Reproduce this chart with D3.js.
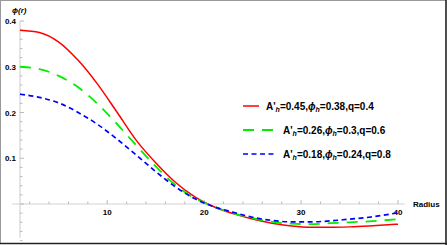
<!DOCTYPE html>
<html>
<head>
<meta charset="utf-8">
<script src="https://cdn.jsdelivr.net/npm/d3@7"></script>
<style>
  body { margin: 0; background: #fff; }
  svg { display: block; }
  text { font-family: "Liberation Sans", Arial, sans-serif; }
</style>
</head>
<body>
<div class="chart"></div>
<script>
// chart data
var radius = [1, 3, 5, 7, 9, 11, 13, 15, 17, 19, 20, 21, 23, 25, 27, 29, 31, 33, 35, 37, 40];
var phiRed   = [0.380, 0.375, 0.354, 0.314, 0.262, 0.201, 0.139, 0.090, 0.048, 0.016, 0.004, -0.006, -0.021, -0.033, -0.042, -0.048, -0.051, -0.051, -0.050, -0.048, -0.044];
var phiGreen = [0.300, 0.295, 0.280, 0.255, 0.219, 0.175, 0.128, 0.082, 0.042, 0.013, 0.003, -0.006, -0.020, -0.031, -0.039, -0.043, -0.044, -0.042, -0.040, -0.038, -0.033];
var phiBlue  = [0.240, 0.233, 0.221, 0.200, 0.174, 0.142, 0.107, 0.071, 0.038, 0.012, 0.002, -0.006, -0.018, -0.029, -0.036, -0.039, -0.039, -0.037, -0.033, -0.029, -0.019];

var seriesNames = [
  {A: "0.45", p: "0.38", q: "0.4"},
  {A: "0.26", p: "0.3", q: "0.6"},
  {A: "0.18", p: "0.24", q: "0.8"}
];
var xTicks = [10, 20, 30, 40];
var yTicks = [0.1, 0.2, 0.3, 0.4];

var width = 447;
var height = 245;

var svg = d3.select(".chart")
  .append("svg")
    .attr("width", width)
    .attr("height", height);

// scales
var x = d3.scaleLinear().domain([1, 40]).range([20, 398]);
var y = d3.scaleLinear().domain([0, 0.4]).range([204, 21]);

// axes (mathematica style, light grey)
var xAxis = svg.append("g");
xAxis.append("line")
  .attr("x1", x(0.2)).attr("x2", x(40.7))
  .attr("y1", y(0)).attr("y2", y(0))
  .style("stroke", "#d4d4d4").style("stroke-width", 1.2);
xAxis.selectAll(".minor")
  .data(d3.range(2, 41, 2))
  .enter().append("line")
    .attr("x1", function(d) { return x(d); }).attr("x2", function(d) { return x(d); })
    .attr("y1", y(0)).attr("y2", function(d) { return y(0) - (d % 10 == 0 ? 4 : 2.5); })
    .style("stroke", "#aaa").style("stroke-width", 0.8);
xAxis.selectAll(".lbl")
  .data(xTicks)
  .enter().append("text")
    .attr("x", function(d) { return x(d); })
    .attr("y", y(0) + 11)
    .attr("text-anchor", "middle")
    .style("font-size", "8px").style("font-weight", "bold")
    .text(function(d) { return d; });

var yAxis = svg.append("g");
yAxis.append("line")
  .attr("x1", x(1)).attr("x2", x(1))
  .attr("y1", y(0.4)).attr("y2", y(-0.074))
  .style("stroke", "#d4d4d4").style("stroke-width", 1.2);
yAxis.selectAll(".minor")
  .data(d3.range(-6, 21).map(function(i) { return i * 0.02; }))
  .enter().append("line")
    .attr("x1", x(1)).attr("x2", function(d, i) { return x(1) + ((i - 6) % 5 == 0 ? 4 : 2.5); })
    .attr("y1", function(d) { return y(d); }).attr("y2", function(d) { return y(d); })
    .style("stroke", "#aaa").style("stroke-width", 0.8);
yAxis.selectAll(".lbl")
  .data(yTicks)
  .enter().append("text")
    .attr("x", x(1) - 4)
    .attr("y", function(d) { return y(d) + 3; })
    .attr("text-anchor", "end")
    .style("font-size", "8px").style("font-weight", "bold")
    .text(function(d) { return d3.format(".1f")(d); });

svg.append("text")
  .attr("x", 12).attr("y", 13)
  .style("font-size", "8px").style("font-style", "italic").style("font-weight", "bold")
  .text("\u03d5(r)");
svg.append("text")
  .attr("x", 413).attr("y", 207)
  .style("font-size", "8px").style("font-weight", "bold")
  .text("Radius");

// curves
var series = [
  {vals: phiRed,   color: "#ff0000", dash: null,   w: 1.5},
  {vals: phiGreen, color: "#00ee00", dash: "11,8", w: 1.8},
  {vals: phiBlue,  color: "#0000ff", dash: "5,3.5", w: 1.7}
];

var line = d3.line()
  .x(function(d, i) { return x(radius[i]); })
  .y(function(d) { return y(d); })
  .curve(d3.curveMonotoneX);

svg.append("g").selectAll("path")
  .data(series)
  .enter().append("path")
    .attr("d", function(d) { return line(d.vals); })
    .style("fill", "none")
    .style("stroke", function(d) { return d.color; })
    .style("stroke-width", function(d) { return d.w; })
    .style("stroke-dasharray", function(d) { return d.dash; });

// legend
var legendY = [106, 130, 154];
var legendTextX = [266, 283, 283];
var legend = svg.append("g");
series.forEach(function(s, i) {
  legend.append("line")
    .attr("x1", 243).attr("x2", i == 0 ? 259 : (i == 1 ? 275 : 277))
    .attr("y1", legendY[i]).attr("y2", legendY[i])
    .style("stroke", s.color)
    .style("stroke-width", s.w)
    .style("stroke-dasharray", s.dash);
  var t = legend.append("text")
    .attr("x", legendTextX[i]).attr("y", legendY[i] + 3.5)
    .style("font-size", "10px").style("font-weight", "bold");
  t.append("tspan").text("A'");
  t.append("tspan").attr("dy", 2).style("font-size", "7px").style("font-style", "italic").text("h");
  t.append("tspan").attr("dy", -2).text("=" + seriesNames[i].A + ",");
  t.append("tspan").style("font-style", "italic").text("\u03d5");
  t.append("tspan").attr("dy", 2).style("font-size", "7px").style("font-style", "italic").text("h");
  t.append("tspan").attr("dy", -2).text("=" + seriesNames[i].p + ",q=" + seriesNames[i].q);
});

// frame around the picture
svg.append("line").attr("x1", 0).attr("x2", 446).attr("y1", 0.5).attr("y2", 0.5).style("stroke", "#999");
svg.append("line").attr("x1", 0.5).attr("x2", 0.5).attr("y1", 0).attr("y2", 244).style("stroke", "#999");
svg.append("line").attr("x1", 446).attr("x2", 446).attr("y1", 0).attr("y2", 245).style("stroke", "#222").style("stroke-width", 1.6);
svg.append("line").attr("x1", 0).attr("x2", 447).attr("y1", 243.5).attr("y2", 243.5).style("stroke", "#222").style("stroke-width", 1.6);
</script>
</body>
</html>
